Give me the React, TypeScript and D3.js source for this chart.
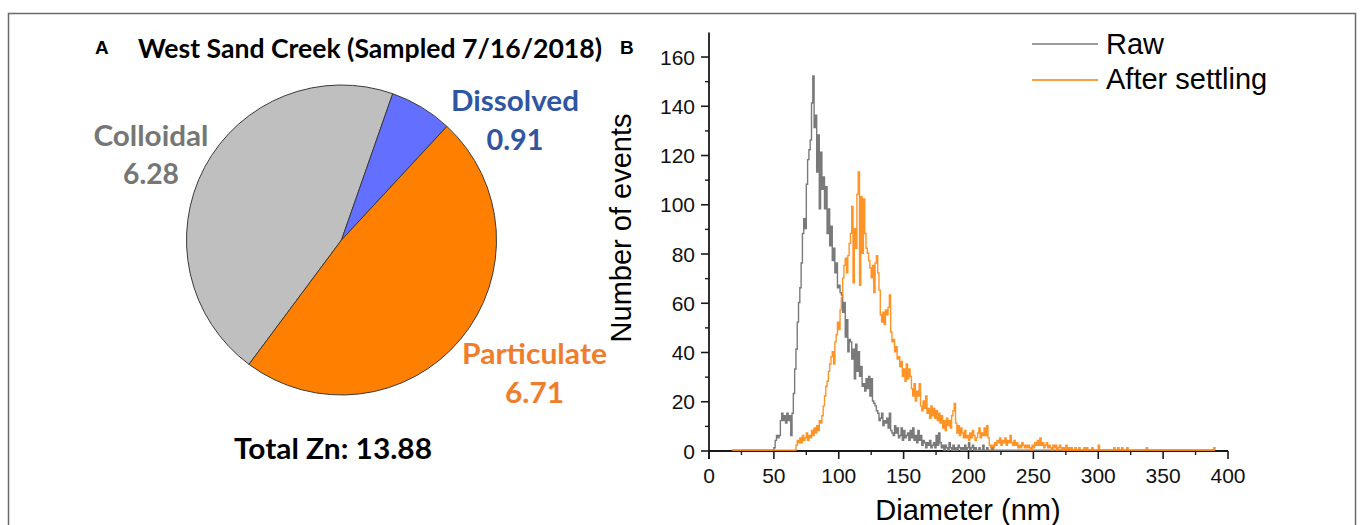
import React from "react";
import * as d3 from "d3";

// ---- Panel A: Zn fractions (µg/L) ----
const fractionNames = ["Colloidal", "Dissolved", "Particulate"];
const fractionZn = [6.28, 0.91, 6.71];
const totalZn = 13.88;

// ---- Panel B: single-particle size distributions ----
const diameterTicks = [0, 50, 100, 150, 200, 250, 300, 350, 400];
const diameterMinorTicks = [25, 75, 125, 175, 225, 275, 325, 375];
const countTicks = [0, 20, 40, 60, 80, 100, 120, 140, 160];
const countMinorTicks = [10, 30, 50, 70, 90, 110, 130, 150];

// instrument bins run from 18 nm to 390 nm in 1 nm steps; bins outside a
// series' listed counts recorded no events
const firstBinNm = 18;
const lastBinNm = 390;

const rawFirstNm = 50;
const rawCounts = [
  1, 4, 6, 5, 6, 12, 15, 12, 14, 11,
  15, 12, 14, 6, 15, 23, 33, 41, 52, 60,
  66, 76, 88, 94, 90, 108, 118, 122, 126, 141,
  152, 131, 136, 113, 128, 98, 121, 106, 111, 98,
  107, 88, 98, 83, 91, 77, 82, 72, 76, 66,
  67, 64, 63, 56, 60, 46, 53, 40, 45, 44,
  37, 41, 29, 43, 32, 40, 30, 34, 26, 27,
  24, 29, 25, 30, 22, 29, 20, 19, 18, 16,
  15, 12, 13, 15, 10, 12, 11, 13, 9, 15,
  8, 7, 6, 10, 7, 9, 5, 6, 9, 4,
  8, 5, 6, 7, 4, 8, 5, 9, 4, 6,
  3, 8, 4, 6, 2, 4, 3, 1, 3, 2,
  4, 1, 2, 3, 1, 6, 2, 7, 3, 1,
  2, 0, 2, 1, 0, 3, 1, 0, 2, 0,
  1, 0, 2, 1, 0, 1, 0, 2, 0, 1,
  3, 0, 1, 2, 0, 1, 0, 0, 1, 0,
  0, 2, 0, 0, 1, 0, 0, 0, 1, 0,
];

const settledFirstNm = 67;
const settledCounts = [
  2, 4, 3,
  5, 3, 6, 4, 5, 7, 4, 6, 5, 8,
  6, 9, 7, 10, 8, 12, 11, 14, 18, 22,
  26, 28, 32, 35, 38, 40, 35, 44, 47, 52,
  49, 57, 62, 70, 75, 78, 72, 79, 84, 88,
  99, 68, 90, 82, 104, 113, 67, 103, 80, 102,
  88, 82, 80, 77, 74, 70, 75, 64, 76, 79,
  72, 65, 55, 52, 56, 51, 57, 55, 58, 63,
  48, 44, 45, 40, 42, 37, 38, 34, 36, 30,
  33, 28, 35, 29, 33, 30, 25, 22, 27, 20,
  24, 22, 27, 18, 16, 20, 17, 22, 15, 17,
  13, 18, 14, 17, 13, 16, 12, 15, 11, 14,
  9, 12, 8, 13, 10, 12, 9, 14, 16, 19,
  11, 7, 10, 6, 9, 7, 5, 8, 5, 6,
  4, 7, 5, 8, 6, 4, 5, 7, 9, 5,
  7, 6, 9, 6, 10, 5, 2, 1, 2, 1,
  3, 2, 4, 3, 5, 2, 4, 3, 5, 2,
  4, 3, 6, 3, 2, 4, 2, 3, 1, 2,
  1, 3, 2, 1, 2, 1, 2, 1, 0, 2,
  1, 3, 2, 4, 2, 5, 2, 3, 1, 2,
  3, 1, 2, 1, 0, 2, 1, 2, 0, 1,
  2, 1, 0, 1, 0, 2, 0, 1, 0, 1,
  0, 0, 1, 0, 0, 1, 0, 0, 0, 1,
  0, 1, 0, 0, 0, 1, 0, 0, 0, 0,
  2, 0, 0, 0, 0, 0, 0, 0, 0, 0,
  0, 0, 1, 0, 0, 1, 0, 0, 1, 0,
  0, 0, 1, 0, 0, 0, 0, 0, 0, 0,
  0, 0, 0, 0, 0, 0, 0, 1, 0, 0,
  0, 0, 0, 0, 0, 0, 0, 0, 0, 0,
  0, 0, 0, 0, 0, 0, 0, 0, 0, 0,
  0, 0, 0, 0, 0, 0, 0, 0, 0, 0,
  0, 0, 0, 0, 0, 0, 0, 0, 0, 0,
  0, 0, 0, 0, 0, 0, 0, 0, 0, 1,
  0,
];

const seriesNames = ["Raw", "After settling"];

// ---- styling ----
const sliceFill: Record<string, string> = {
  Colloidal: "#bfbfbf",
  Dissolved: "#6370ff",
  Particulate: "#ff8000",
};
const labelFill: Record<string, string> = {
  Colloidal: "#767676",
  Dissolved: "#2f55a3",
  Particulate: "#f07d2c",
};
const seriesStroke = ["#7a7a7a", "#ff8000"];

const W = 1360;
const H = 525;
const CALIBRI = "Lato, 'Open Sans', sans-serif";
const ARIAL = "'Liberation Sans', Arial, sans-serif";

function expand(first: number, counts: number[]) {
  return d3.range(firstBinNm, lastBinNm + 1).map((d) => {
    const i = d - first;
    return { d, n: i >= 0 && i < counts.length ? counts[i] : 0 };
  });
}

function PiePanel() {
  const cx = 341.5;
  const cy = 240;
  const r = 155;
  const total = d3.sum(fractionZn);
  // the dissolved wedge begins at ~19° past 12 o'clock; colloidal precedes it
  const dissolvedStart = (19.3 * Math.PI) / 180;
  const start = dissolvedStart - (fractionZn[0] / total) * 2 * Math.PI;
  const pie = d3
    .pie<number>()
    .sort(null)
    .value((v) => v)
    .startAngle(start)
    .endAngle(start + 2 * Math.PI);
  const arcs = pie(fractionZn);
  const arc = d3.arc<d3.PieArcDatum<number>>().innerRadius(0).outerRadius(r);

  // label placement (name baseline, value baseline, centre x, widths)
  const labelLayout: Record<string, { x: number; y1: number; y2: number; w1: number; w2: number }> = {
    Colloidal: { x: 151, y1: 145.5, y2: 184, w1: 115, w2: 56 },
    Dissolved: { x: 515, y1: 111, y2: 150, w1: 128, w2: 57 },
    Particulate: { x: 534.5, y1: 364, y2: 403, w1: 145, w2: 59 },
  };

  return (
    <g>
      <text x={95} y={54} fontFamily={ARIAL} fontWeight={700} fontSize={19} fill="#000">
        A
      </text>
      <text
        x={138}
        y={57.5}
        fontFamily={CALIBRI}
        fontWeight={700}
        fontSize={26}
        fill="#000"
        textLength={464}
        lengthAdjust="spacingAndGlyphs"
      >
        West Sand Creek (Sampled 7/16/2018)
      </text>
      <g transform={`translate(${cx},${cy})`}>
        {arcs.map((a, i) => (
          <path
            key={fractionNames[i]}
            d={arc(a) || ""}
            fill={sliceFill[fractionNames[i]]}
            stroke="#3a3a3a"
            strokeWidth={1}
          />
        ))}
      </g>
      {fractionNames.map((name, i) => {
        const L = labelLayout[name];
        return (
          <g key={name} fontFamily={CALIBRI} fontWeight={700} fontSize={28} fill={labelFill[name]}>
            <text x={L.x} y={L.y1} textAnchor="middle" textLength={L.w1} lengthAdjust="spacingAndGlyphs">
              {name}
            </text>
            <text x={L.x} y={L.y2} textAnchor="middle" textLength={L.w2} lengthAdjust="spacingAndGlyphs">
              {fractionZn[i].toFixed(2)}
            </text>
          </g>
        );
      })}
      <text
        x={333}
        y={459}
        textAnchor="middle"
        fontFamily={CALIBRI}
        fontWeight={700}
        fontSize={29}
        fill="#000"
        textLength={198}
        lengthAdjust="spacingAndGlyphs"
      >
        {`Total Zn: ${totalZn.toFixed(2)}`}
      </text>
    </g>
  );
}

function HistogramPanel() {
  const x = d3.scaleLinear().domain([0, 400]).range([709, 1228]);
  const y = d3.scaleLinear().domain([0, 170]).range([451, 32.4]);
  const series = [expand(rawFirstNm, rawCounts), expand(settledFirstNm, settledCounts)];
  const line = d3
    .line<{ d: number; n: number }>()
    .x((p) => x(p.d))
    .y((p) => y(p.n) - 0.8)
    .curve(d3.curveStepAfter);

  const axisColor = "#1a1a1a";
  const x0 = x(0);
  const y0 = y(0);

  return (
    <g>
      <text x={620} y={54} fontFamily={ARIAL} fontWeight={700} fontSize={19} fill="#000">
        B
      </text>

      {/* axes */}
      <line x1={x0} x2={x0} y1={y(170)} y2={y0 + 8} stroke={axisColor} strokeWidth={1.8} />
      {countTicks.map((t) => (
        <g key={`yt${t}`}>
          <line x1={x0 - 8} x2={x0} y1={y(t)} y2={y(t)} stroke={axisColor} strokeWidth={1.6} />
          <text
            x={x0 - 14}
            y={y(t) + 7.5}
            textAnchor="end"
            fontFamily={ARIAL}
            fontSize={21}
            fill="#111"
          >
            {t}
          </text>
        </g>
      ))}
      {countMinorTicks.map((t) => (
        <line key={`ym${t}`} x1={x0 - 4} x2={x0} y1={y(t)} y2={y(t)} stroke={axisColor} strokeWidth={1.4} />
      ))}

      <line x1={x0} x2={x(400)} y1={y0} y2={y0} stroke={axisColor} strokeWidth={1.8} />
      {diameterTicks.map((t) => (
        <g key={`xt${t}`}>
          <line x1={x(t)} x2={x(t)} y1={y0} y2={y0 + 8} stroke={axisColor} strokeWidth={1.6} />
          <text x={x(t)} y={483} textAnchor="middle" fontFamily={ARIAL} fontSize={21} fill="#111">
            {t}
          </text>
        </g>
      ))}
      {diameterMinorTicks.map((t) => (
        <line key={`xm${t}`} x1={x(t)} x2={x(t)} y1={y0} y2={y0 + 4} stroke={axisColor} strokeWidth={1.4} />
      ))}

      {/* data, drawn over the axis so the zero runs stay visible */}
      {series.map((s, i) => (
        <path
          key={seriesNames[i]}
          d={line(s) || ""}
          fill="none"
          stroke={seriesStroke[i]}
          strokeWidth={1.4}
          strokeOpacity={i === 1 ? 0.85 : 1}
          strokeLinejoin="miter"
        />
      ))}

      {/* axis titles */}
      <text
        transform="translate(631,228) rotate(-90)"
        textAnchor="middle"
        fontFamily={ARIAL}
        fontSize={29}
        fill="#000"
      >
        Number of events
      </text>
      <text x={968} y={520} textAnchor="middle" fontFamily={ARIAL} fontSize={29} fill="#000">
        Diameter (nm)
      </text>

      {/* legend */}
      {seriesNames.map((name, i) => (
        <g key={`lg${name}`}>
          <line
            x1={1032}
            x2={1098}
            y1={44 + i * 36}
            y2={44 + i * 36}
            stroke={seriesStroke[i]}
            strokeWidth={1.5}
          />
          <text x={1106} y={54 + i * 35} fontFamily={ARIAL} fontSize={29} fill="#000">
            {name}
          </text>
        </g>
      ))}
    </g>
  );
}

export default function App() {
  return (
    <svg
      width={W}
      height={H}
      viewBox={`0 0 ${W} ${H}`}
      style={{ position: "absolute", left: 0, top: 0, display: "block", background: "#fff" }}
    >
      <rect x={0} y={0} width={W} height={H} fill="#fff" />
      <rect x={8.5} y={13.5} width={1347} height={560} fill="none" stroke="#6a6a6a" strokeWidth={1.5} />
      <PiePanel />
      <HistogramPanel />
    </svg>
  );
}
